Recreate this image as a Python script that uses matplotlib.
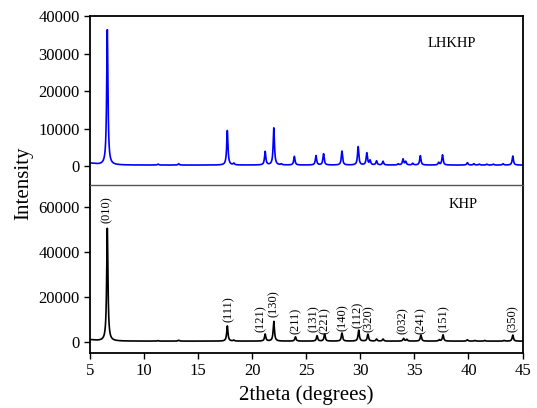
import numpy as np
import matplotlib.pyplot as plt

plt.rcParams['font.family'] = ['Liberation Serif', 'DejaVu Serif']

# LHKHP peaks (2theta, intensity)
lh_pos = [5.0, 6.6, 11.3, 13.2, 17.7, 18.3, 21.2, 22.0, 22.7, 23.9, 25.9, 26.6,
          28.3, 29.8, 30.6, 30.9, 31.5, 32.1, 33.5, 33.95, 34.2, 34.85, 35.55,
          37.25, 37.6, 39.9, 40.5, 41.0, 41.7, 42.3, 43.2, 44.1]
lh_int = [500, 36000, 250, 350, 9200, 450, 3600, 9900, 250, 2300, 2500, 3000,
          3700, 4900, 3200, 1200, 1100, 1000, 300, 1600, 900, 450, 2500,
          650, 2700, 650, 350, 250, 250, 250, 350, 2400]
lh_bg = 300

# KHP peaks (2theta, intensity)
k_pos = [5.0, 6.6, 11.3, 13.2, 17.7, 18.3, 21.2, 22.0, 24.0, 26.0, 26.7, 28.3,
         29.85, 30.7, 31.5, 32.1, 34.0, 34.3, 35.6, 37.3, 37.65, 39.9, 40.6,
         41.5, 43.3, 44.1]
k_int = [600, 50300, 200, 400, 6800, 400, 3100, 8800, 1900, 2400, 3100, 3600,
         4900, 3100, 900, 900, 1200, 800, 2700, 600, 2800, 600, 300,
         300, 300, 2700]
k_bg = 300

# hkl labels of KHP: (2theta, label bottom)
hkl_pos = [6.55, 17.8, 20.8, 22.0, 24.0, 25.7, 26.75, 28.35, 29.8, 30.8,
           33.95, 35.6, 37.7, 44.1]
hkl_y = [53000, 8700, 4500, 11200, 3400, 4200, 3400, 4900, 6000, 4500,
         3400, 3700, 4200, 4500]
hkl_txt = ['(010)', '(111)', '(121)', '(130)', '(211)', '(131)', '(221)',
           '(140)', '(112)', '(320)', '(032)', '(241)', '(151)', '(350)']


def profile(x, pos, inten, bg):
    y = np.full_like(x, bg, dtype=float)
    for p, h in zip(pos, inten):
        w = 0.6 if p < 5.5 else 0.07
        y += h * w ** 2 / ((x - p) ** 2 + w ** 2)
    return y


x = np.linspace(5, 45, 6000)

fig = plt.figure(figsize=(5.37, 4.08), dpi=100)
ax1 = fig.add_axes([0.1676, 0.5466, 0.8054, 0.4142])
ax2 = fig.add_axes([0.1676, 0.1348, 0.8054, 0.4118])

ax1.plot(x, profile(x, lh_pos, lh_int, lh_bg), color='#0000ff', lw=1.2)
ax2.plot(x, profile(x, k_pos, k_int, k_bg), color='black', lw=1.2)

for xp, yp, t in zip(hkl_pos, hkl_y, hkl_txt):
    ax2.text(xp, yp, t, rotation=90, ha='center', va='bottom', fontsize=9)

ax1.set_xlim(5, 45)
ax2.set_xlim(5, 45)
ax1.set_ylim(-5000, 40000)
ax2.set_ylim(-5000, 70000)
ax1.set_yticks([0, 10000, 20000, 30000, 40000])
ax2.set_yticks([0, 20000, 40000, 60000])
ax2.set_xticks(range(5, 50, 5))
ax1.set_xticks([])

for ax in (ax1, ax2):
    ax.tick_params(direction='out', length=4, width=1, labelsize=12)
    for s in ax.spines.values():
        s.set_linewidth(1.3)
ax1.spines['bottom'].set_visible(False)
ax2.spines['top'].set_color('#555555')
ax2.spines['top'].set_linewidth(1.0)

ax1.text(38.5, 32800, 'LHKHP', fontsize=10.5, ha='center', va='center')
ax2.text(39.5, 61300, 'KHP', fontsize=10.5, ha='center', va='center')

ax2.set_xlabel('2theta (degrees)', fontsize=15, labelpad=4)
fig.text(0.045, 0.55, 'Intensity', rotation=90, fontsize=15,
         ha='center', va='center')

fig.savefig('out.png', dpi=100)
